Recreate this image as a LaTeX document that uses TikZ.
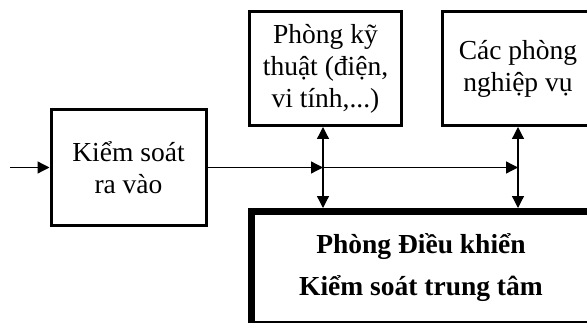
\documentclass[tikz,border=0pt]{standalone}
\usepackage{fontspec}
\setmainfont{Liberation Serif}
\usetikzlibrary{arrows.meta}

\tikzset{
    room/.style={draw, line width=3pt, fill=white, inner sep=0pt, align=center,
        minimum width=152pt, minimum height=114pt, font=\fontsize{27.5}{32}\selectfont},
    hub/.style={draw, line width=6.5pt, fill=white, inner sep=0pt, align=center,
        minimum width=339.5pt, minimum height=112.5pt, font=\bfseries\fontsize{27.5}{42}\selectfont},
    flow/.style={line width=1.3pt, -{Triangle[length=12pt,width=12pt]}},
    link/.style={line width=1.3pt, {Triangle[length=12pt,width=12pt]}-{Triangle[length=12pt,width=12pt]}},
}

\begin{document}
\begin{tikzpicture}[x=1pt, y=1pt]
    \useasboundingbox (0,0) rectangle (587,322);
    \clip (0,0) rectangle (587,322);

    % Define the nodes
    \node[room, minimum width=155pt, minimum height=116pt] (gate) at (128.5, 154.5) {Kiểm soát\\ra vào};
    \node[room] (tech) at (325.5, 253.5) {Phòng kỹ\\thuật (điện,\\vi tính,...)};
    \node[room] (dept) at (518, 253.5) {Các phòng\\nghiệp vụ};
    \node[hub] (main) at (421, 54.5) {Phòng Điều khiển\\Kiểm soát trung tâm};

    \coordinate (in) at (10, 154.5);
    \coordinate (j1) at (323, 154.5);
    \coordinate (j2) at (518, 154.5);

    % Draw the edges
    \draw[flow] (in) -- (gate.west);
    \draw[flow] (gate.east) -- (j1);
    \draw[flow] (j1) -- (j2);

    \draw[link] (j1 |- tech.south) -- (j1 |- main.north);
    \draw[link] (j2 |- dept.south) -- (j2 |- main.north);
\end{tikzpicture}
\end{document}
